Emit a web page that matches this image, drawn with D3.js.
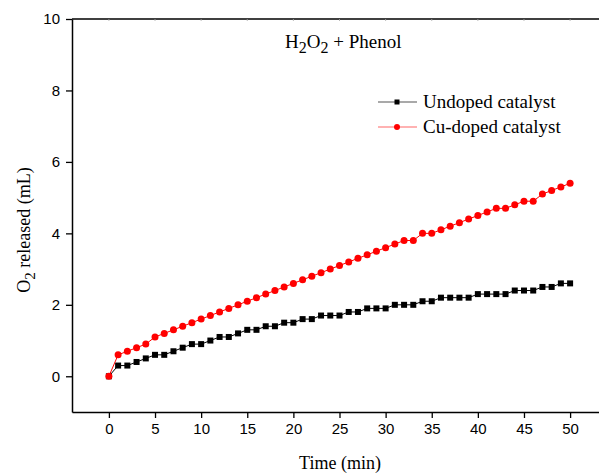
<!DOCTYPE html>
<html>
<head>
<meta charset="utf-8">
<script src="https://cdn.jsdelivr.net/npm/d3@7"></script>
<style>
  body { margin: 0; background: #fff; }
</style>
</head>
<body>
<div id="wrapper"></div>
<script>
// data
const times = d3.range(0, 51)
const undoped = [0, 0.3, 0.3, 0.4, 0.5, 0.6, 0.6, 0.7, 0.8, 0.9, 0.9, 1.0, 1.1, 1.1, 1.2, 1.3, 1.3, 1.4, 1.4, 1.5, 1.5,
  1.6, 1.6, 1.7, 1.7, 1.7, 1.8, 1.8, 1.9, 1.9, 1.9, 2.0, 2.0, 2.0, 2.1, 2.1, 2.2, 2.2, 2.2, 2.2, 2.3,
  2.3, 2.3, 2.3, 2.4, 2.4, 2.4, 2.5, 2.5, 2.6, 2.6]
const cuDoped = [0, 0.6, 0.7, 0.8, 0.9, 1.1, 1.2, 1.3, 1.4, 1.5, 1.6, 1.7, 1.8, 1.9, 2.0, 2.1, 2.2, 2.3, 2.4, 2.5, 2.6,
  2.7, 2.8, 2.9, 3.0, 3.1, 3.2, 3.3, 3.4, 3.5, 3.6, 3.7, 3.8, 3.8, 4.0, 4.0, 4.1, 4.2, 4.3, 4.4, 4.5,
  4.6, 4.7, 4.7, 4.8, 4.9, 4.9, 5.1, 5.2, 5.3, 5.4]
const xTicks = [0, 5, 10, 15, 20, 25, 30, 35, 40, 45, 50]
const yTicks = [0, 2, 4, 6, 8, 10]
const seriesNames = ["Undoped catalyst", "Cu-doped catalyst"]

function drawChart() {
    const dimensions = {
      width: 599,
      height: 474,
      left: 72,
      right: 607,
      top: 19,
      bottom: 412,
    }

    const svg = d3.select("#wrapper")
        .append("svg")
        .attr("width", dimensions.width)
        .attr("height", dimensions.height)
        .style("display", "block")

    const xScaler = d3.scaleLinear()
        .domain([-4, 54])
        .range([dimensions.left, dimensions.right])

    const yScaler = d3.scaleLinear()
        .domain([-1, 10])
        .range([dimensions.bottom, dimensions.top])

    // top frame line with faint ticks
    svg.append("line")
        .attr("x1", dimensions.left).attr("x2", dimensions.right)
        .attr("y1", dimensions.top).attr("y2", dimensions.top)
        .attr("stroke", "#000").attr("stroke-width", 1.5)
    svg.append("g").selectAll("line")
        .data(xTicks)
        .join("line")
        .attr("x1", d => xScaler(d)).attr("x2", d => xScaler(d))
        .attr("y1", dimensions.top).attr("y2", dimensions.top + 2)
        .attr("stroke", "#aaa").attr("stroke-width", 0.8)

    const xAxis = svg.append("g")
        .attr("transform", `translate(0, ${dimensions.bottom})`)
        .call(d3.axisBottom(xScaler).tickValues(xTicks).tickSize(6).tickPadding(5).tickSizeOuter(0))
    const yAxis = svg.append("g")
        .attr("transform", `translate(${dimensions.left}, 0)`)
        .call(d3.axisLeft(yScaler).tickValues(yTicks).tickSize(6).tickPadding(6).tickSizeOuter(0))

    for (const axis of [xAxis, yAxis]) {
      axis.select(".domain").attr("stroke-width", 1.5)
      axis.selectAll(".tick line").attr("stroke-width", 1.3)
      axis.selectAll("text")
          .attr("font-family", "Liberation Sans, Arial, sans-serif")
          .attr("font-size", "15px")
          .attr("fill", "#000")
    }

    const line = d3.line()
        .x((d, i) => xScaler(times[i]))
        .y(d => yScaler(d))

    // undoped: black squares
    svg.append("path")
        .attr("d", line(undoped))
        .attr("fill", "none")
        .attr("stroke", "#000")
        .attr("stroke-width", 1)
    svg.append("g").selectAll("rect")
        .data(undoped)
        .join("rect")
        .attr("x", (d, i) => xScaler(times[i]) - 3)
        .attr("y", d => yScaler(d) - 3)
        .attr("width", 6)
        .attr("height", 6)
        .attr("fill", "#000")

    // cu-doped: red circles
    svg.append("path")
        .attr("d", line(cuDoped))
        .attr("fill", "none")
        .attr("stroke", "#ff0000")
        .attr("stroke-width", 1)
    svg.append("g").selectAll("circle")
        .data(cuDoped)
        .join("circle")
        .attr("cx", (d, i) => xScaler(times[i]))
        .attr("cy", d => yScaler(d))
        .attr("r", 3.5)
        .attr("fill", "#ff0000")

    // axis titles
    svg.append("text")
        .attr("x", 340)
        .attr("y", 469)
        .attr("text-anchor", "middle")
        .attr("font-family", "Liberation Serif, Times New Roman, serif")
        .attr("font-size", "18px")
        .text("Time (min)")

    const yTitle = svg.append("text")
        .attr("transform", "translate(30, 230) rotate(-90)")
        .attr("text-anchor", "middle")
        .attr("font-family", "Liberation Serif, Times New Roman, serif")
        .attr("font-size", "18px")
    yTitle.append("tspan").text("O")
    yTitle.append("tspan").attr("font-size", "15px").attr("dy", 5).text("2")
    yTitle.append("tspan").attr("dy", -5).text(" released (mL)")

    // annotation
    const note = svg.append("text")
        .attr("x", 285)
        .attr("y", 48)
        .attr("font-family", "Liberation Serif, Times New Roman, serif")
        .attr("font-size", "19px")
    note.append("tspan").text("H")
    note.append("tspan").attr("font-size", "16px").attr("dy", 5).text("2")
    note.append("tspan").attr("dy", -5).text("O")
    note.append("tspan").attr("font-size", "16px").attr("dy", 5).text("2")
    note.append("tspan").attr("dy", -5).text(" + Phenol")

    // legend
    const legend = svg.append("g").selectAll("g")
        .data(seriesNames)
        .join("g")
        .attr("transform", (d, i) => `translate(378, ${102 + i * 25})`)
    legend.append("line")
        .attr("x1", 0).attr("x2", 39)
        .attr("stroke", (d, i) => i === 0 ? "#555" : "#ff6666")
        .attr("stroke-width", 1.2)
    legend.filter((d, i) => i === 0).append("rect")
        .attr("x", 16.5).attr("y", -2.5).attr("width", 5).attr("height", 5)
        .attr("fill", "#000")
    legend.filter((d, i) => i === 1).append("circle")
        .attr("cx", 19).attr("r", 3)
        .attr("fill", "#ff0000")
    legend.append("text")
        .attr("x", 45)
        .attr("y", 6)
        .attr("font-family", "Liberation Serif, Times New Roman, serif")
        .attr("font-size", "19px")
        .text(d => d)
}

drawChart()
</script>
</body>
</html>
